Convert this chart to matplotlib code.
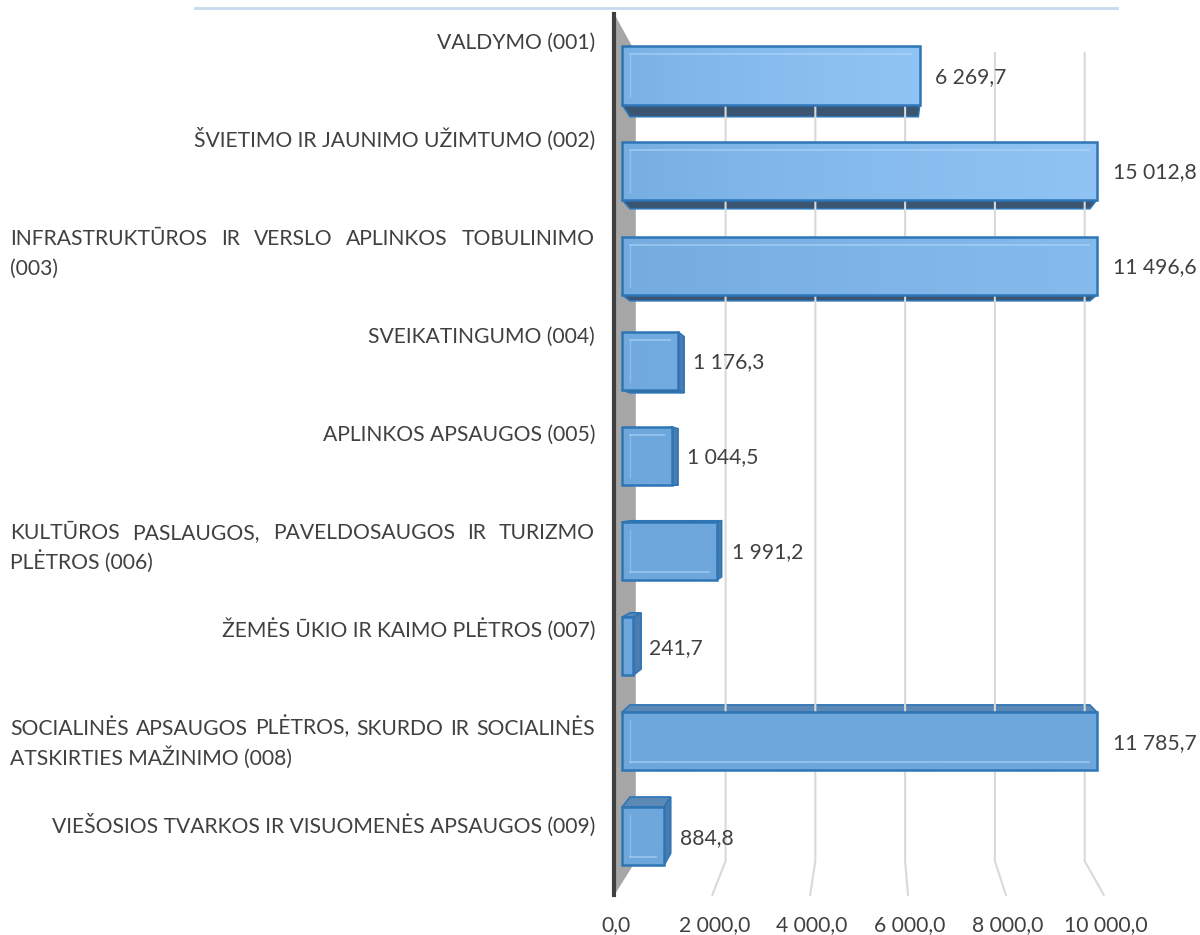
import numpy as np
import matplotlib.pyplot as plt
from matplotlib.patches import Polygon
from matplotlib.lines import Line2D
from matplotlib.colors import to_rgb

# chart data (thousand EUR by programme)
categories = [
    "VALDYMO (001)",
    "ŠVIETIMO IR JAUNIMO UŽIMTUMO (002)",
    "INFRASTRUKTŪROS IR VERSLO APLINKOS TOBULINIMO\n(003)",
    "SVEIKATINGUMO (004)",
    "APLINKOS APSAUGOS (005)",
    "KULTŪROS PASLAUGOS, PAVELDOSAUGOS IR TURIZMO\nPLĖTROS (006)",
    "ŽEMĖS ŪKIO IR KAIMO PLĖTROS (007)",
    "SOCIALINĖS APSAUGOS PLĖTROS, SKURDO IR SOCIALINĖS\nATSKIRTIES MAŽINIMO (008)",
    "VIEŠOSIOS TVARKOS IR VISUOMENĖS APSAUGOS (009)",
]
values = [6269.7, 15012.8, 11496.6, 1176.3, 1044.5, 1991.2, 241.7, 11785.7, 884.8]
ticks = [0, 2000, 4000, 6000, 8000, 10000]
axis_max = 10000

TEXT = "#404040"
EDGE = "#2e75b6"
FONT = "Lato"
FS = 15.2

# perspective set-up (vanishing point in data coords, depth fractions)
VPX, VPY = 5280, 4.3
T_FRONT, T_BACK, T_BAR = -0.03, 0.055, 0.032
BAR_H = 0.61
Y_TOP, Y_BOT = -0.5, 8.49


def proj(x, y, t):
    return x + t * (VPX - x), y + t * (VPY - y)


def fmt(v):
    return f"{v:,.1f}".replace(",", " ").replace(".", ",")


def mix(c1, c2, w):
    a, b = np.array(to_rgb(c1)), np.array(to_rgb(c2))
    return a + (b - a) * w


fig = plt.figure(figsize=(12, 9.35), dpi=100)
ax = fig.add_axes([0, 0, 1, 1])
ax.axis("off")
px_per_unit = 0.0475
x0_px, y0_px, row_px = 622, 75.5, 95.1
xlim = (-x0_px / px_per_unit, (1200 - x0_px) / px_per_unit)
ylim = ((935 - y0_px) / row_px, -y0_px / row_px)
# shift from text centre to baseline (cap height / 2)
base_off = 7.5 / row_px

# top decorative line
fig.add_artist(Line2D([195 / 1200, 1117 / 1200], [1 - 8 / 935] * 2,
                      color="#c6d9f1", lw=2))

# side wall + vertical axis line
wall = [proj(0, Y_TOP, T_FRONT), proj(0, Y_TOP, T_BACK),
        proj(0, Y_BOT, T_BACK), proj(0, Y_BOT, T_FRONT)]
ax.add_patch(Polygon(wall, closed=True, facecolor="#a6a6a6", edgecolor="none"))

# gridlines on back wall + floor
for v in ticks[1:]:
    p1 = proj(v, Y_TOP, T_BACK)
    p2 = proj(v, Y_BOT, T_BACK)
    p3 = proj(v, Y_BOT, T_FRONT)
    ax.plot([p1[0], p2[0], p3[0]], [p1[1], p2[1], p3[1]],
            color="#d9d9d9", lw=1.5, solid_joinstyle="round")

a1 = proj(0, Y_TOP, T_FRONT)
a2 = proj(0, Y_BOT, T_FRONT)
ax.plot([a1[0], a2[0]], [a1[1], a2[1]], color=TEXT, lw=3)

# bars
for i, v in enumerate(values):
    c = min(v, axis_max)
    y0, y1 = i - BAR_H / 2, i + BAR_H / 2
    # visible depth faces
    if i < VPY:
        face = [proj(0, y1, 0), proj(c, y1, 0), proj(c, y1, T_BAR), proj(0, y1, T_BAR)]
        ax.add_patch(Polygon(face, closed=True, facecolor="#3b5470",
                             edgecolor=EDGE, lw=1.2))
    else:
        face = [proj(0, y0, 0), proj(c, y0, 0), proj(c, y0, T_BAR), proj(0, y0, T_BAR)]
        ax.add_patch(Polygon(face, closed=True, facecolor="#5b88b5",
                             edgecolor=EDGE, lw=1.2))
    if c < VPX:
        side = [proj(c, y0, 0), proj(c, y0, T_BAR), proj(c, y1, T_BAR), proj(c, y1, 0)]
        ax.add_patch(Polygon(side, closed=True, facecolor="#4a7cb0",
                             edgecolor=EDGE, lw=1.2))
    # front face with gradient
    front = Polygon([(0, y0), (c, y0), (c, y1), (0, y1)], closed=True,
                    facecolor="none", edgecolor=EDGE, lw=1.8, zorder=4)
    ax.add_patch(front)
    xs = np.linspace(0, c, 80)
    light = np.clip((VPY - 0.3 - i) / VPY, 0, 1)
    w = (0.25 + 0.75 * (xs / axis_max) ** 0.8) * light
    img = np.array([[mix("#6ea7dc", "#9fd0ff", wi) for wi in w]] * 2)
    im = ax.imshow(img, extent=(0, c, y1, y0), aspect="auto",
                   interpolation="bilinear", zorder=3)
    im.set_clip_path(front)
    # bevel hint
    dx, dy = 8 / px_per_unit, 8 / row_px
    if c > 3 * dx:
        yb = y0 + dy if i < VPY else y1 - dy
        ax.plot([dx, c - dx], [yb, yb], color="#b7dafa", lw=1.2, alpha=0.6, zorder=5)
        ax.plot([dx, dx], [y0 + dy, y1 - dy], color="#b7dafa", lw=1.0, alpha=0.4, zorder=5)
    # value label
    ax.text(c + 15.5 / px_per_unit, i + base_off, fmt(v), ha="left", va="baseline",
            fontsize=FS, color=TEXT, family=FONT)

# x tick labels on front floor edge
for v in ticks:
    xf, _ = proj(v, Y_BOT, T_FRONT)
    ax.text(xf + 2 / px_per_unit, (923.5 - y0_px) / row_px + base_off, fmt(v),
            ha="center", va="baseline", fontsize=FS, color=TEXT, family=FONT)

ax.set_xlim(*xlim)
ax.set_ylim(*ylim)

# category labels (justified first line when wrapped)
renderer = fig.canvas.get_renderer()
inv = ax.transData.inverted()
lab_left = (10 - x0_px) / px_per_unit
lab_right = (595 - x0_px) / px_per_unit
line_gap = 30 / row_px


def text_width(s):
    t = ax.text(0, 0, s, fontsize=FS, family=FONT)
    bb = t.get_window_extent(renderer)
    t.remove()
    return (inv.transform((bb.x1, 0))[0] - inv.transform((bb.x0, 0))[0])


for i, lab in enumerate(categories):
    _, yf = proj(0, i, T_FRONT)
    ly = yf - 0.23 + base_off
    lines = lab.split("\n")
    if len(lines) == 1:
        ax.text(lab_right, ly, lab, ha="right", va="baseline", fontsize=FS,
                color=TEXT, family=FONT)
        continue
    words = lines[0].split(" ")
    widths = [text_width(wd) for wd in words]
    gap = (lab_right - lab_left - sum(widths)) / (len(words) - 1)
    x = lab_left
    for wd, wdt in zip(words, widths):
        ax.text(x, ly, wd, ha="left", va="baseline", fontsize=FS,
                color=TEXT, family=FONT)
        x += wdt + gap
    ax.text(lab_left, ly + line_gap, lines[1], ha="left", va="baseline",
            fontsize=FS, color=TEXT, family=FONT)

fig.savefig("out.png", dpi=100)
